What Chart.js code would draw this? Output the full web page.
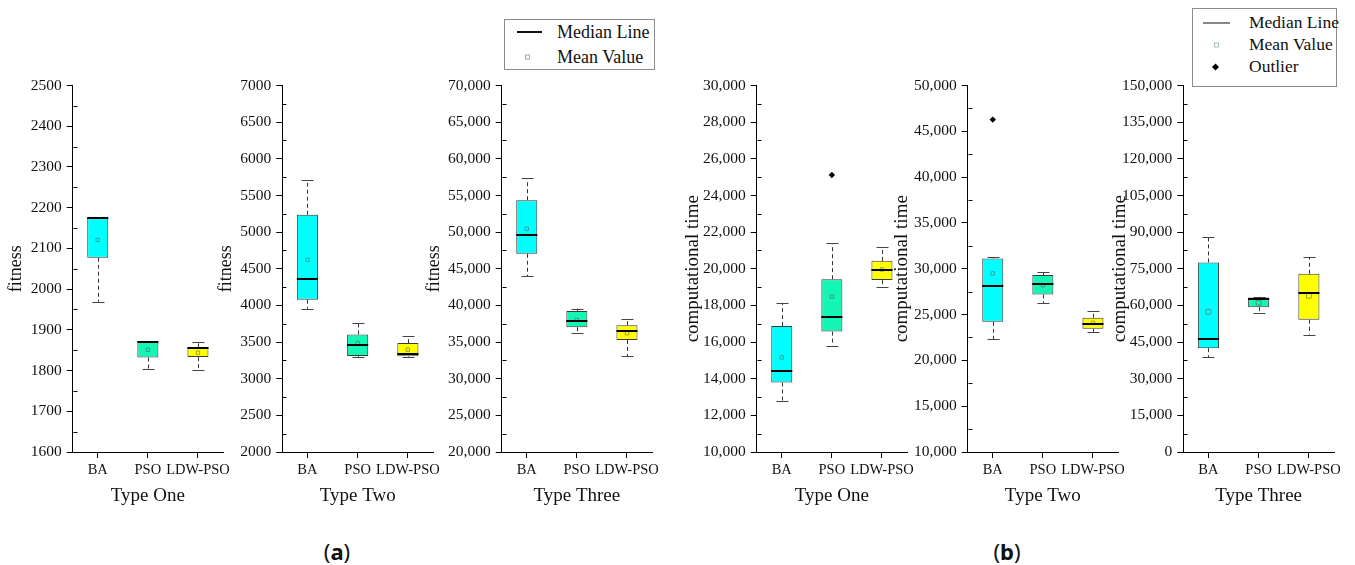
<!DOCTYPE html>
<html>
<head>
<meta charset="utf-8">
<title>BA / PSO / LDW-PSO box plots</title>
<script src="https://cdn.jsdelivr.net/npm/chart.js@4.4.1/dist/chart.umd.min.js"></script>
<style>
  body { margin: 0; background: #fff; }
  #stage { position: relative; width: 1355px; height: 565px; overflow: hidden;
           font-family: "Liberation Serif", "Times New Roman", serif; color: #111; }
  #stage canvas { position: absolute; }
  .legend { position: absolute; border: 1px solid #8c8c8c; background: #fff; box-sizing: border-box; }
  .mark, .txt { position: absolute; transform: translateY(-50%); }
  .txt { white-space: nowrap; line-height: 1; }
  .caption { position: absolute; transform: translate(-50%, -50%); font-family: "Noto Sans", sans-serif;
             font-size: 22px; white-space: nowrap; }
</style>
</head>
<body>
<div id="stage">
  <!-- legend (a) -->
  <div class="legend" style="left:504px; top:19px; width:151px; height:51px;"></div>
  <div class="mark" style="left:517px; top:32px; width:25px; height:2px; background:#111;"></div>
  <div class="txt" style="left:557px; top:32px; font-size:18px;">Median Line</div>
  <div class="mark" style="left:525px; top:57px; width:3px; height:3px; border:1px solid #9ab;"></div>
  <div class="txt" style="left:557px; top:57px; font-size:18px;">Mean Value</div>

  <!-- legend (b) -->
  <div class="legend" style="left:1192px; top:8px; width:145px; height:79px;"></div>
  <div class="mark" style="left:1203px; top:23px; width:27px; height:1px; background:#111;"></div>
  <div class="txt" style="left:1249px; top:23px; font-size:17.5px;">Median Line</div>
  <div class="mark" style="left:1214px; top:45px; width:3px; height:3px; border:1px solid #abb;"></div>
  <div class="txt" style="left:1249px; top:45px; font-size:17.5px;">Mean Value</div>
  <div class="mark" style="left:1213px; top:67px; width:5px; height:5px; background:#000; transform:translateY(-50%) rotate(45deg);"></div>
  <div class="txt" style="left:1249px; top:67px; font-size:17.5px;">Outlier</div>

  <div class="caption" style="left:337px; top:551px;">(<b>a</b>)</div>
  <div class="caption" style="left:1007px; top:551px;">(<b>b</b>)</div>
</div>

<script>
// ---- data ----
const categories = ['BA', 'PSO', 'LDW-PSO'];
const panelTypes = ['Type One', 'Type Two', 'Type Three', 'Type One', 'Type Two', 'Type Three'];
const yTitles = ['fitness', 'fitness', 'fitness', 'computational time', 'computational time', 'computational time'];
const yMin = [1600, 2000, 20000, 10000, 10000, 0];
const yMax = [2500, 7000, 70000, 30000, 50000, 150000];
const yStep = [100, 500, 5000, 2000, 5000, 15000];

// one row per panel, one value per category
const boxMin = [
  [1969, 1803, 1801],
  [3955, 3298, 3298],
  [43950, 36290, 33050],
  [12780, 15800, 18990],
  [22280, 26250, 23120],
  [38800, 56700, 48090]
];
const boxQ1 = [
  [2077, 1832, 1833],
  [4078, 3309, 3305],
  [47050, 37020, 35280],
  [13790, 16570, 19380],
  [24210, 27200, 23440],
  [42490, 59290, 54100]
];
const boxMedian = [
  [2175, 1870, 1855],
  [4364, 3455, 3332],
  [49650, 37880, 36470],
  [14440, 17370, 19950],
  [28070, 28320, 23950],
  [46310, 62700, 64890]
];
const boxQ3 = [
  [2176, 1871, 1857],
  [5237, 3604, 3486],
  [54350, 39250, 37290],
  [16870, 19430, 20430],
  [31130, 29310, 24650],
  [77600, 63250, 72950]
];
const boxMax = [
  [2176, 1871, 1871],
  [5705, 3755, 3582],
  [57360, 39570, 38110],
  [18140, 21380, 21200],
  [31280, 29640, 25370],
  [87840, 63500, 79780]
];
const boxMean = [
  [2121, 1851, 1844],
  [4623, 3486, 3396],
  [50470, 38020, 36200],
  [15160, 18480, 19960],
  [29490, 28200, 24100],
  [57380, 61070, 63930]
];
const outliers = [
  [null, null, null],
  [null, null, null],
  [null, null, null],
  [null, 25120, null],
  [46280, null, null],
  [null, null, null]
];

// ---- layout / style ----
const axisLeft = [72.7, 282.3, 501.7, 756.7, 967.7, 1183.3];
const titleCenter = [16.3, 226, 434, 693, 902, 1120];
const areaWidth = 150, areaTop = 85.5, areaBottom = 452, xAxisHeight = 58;
const boxColors = ['#00FFFF', '#14F5B6', '#FFFF00'];
const meanColors = ['#3f9d9d', '#3f9d86', '#9d9d3f'];
const serif = '"Liberation Serif", "Times New Roman", serif';

Chart.defaults.font.family = serif;
Chart.defaults.color = '#111';

const boxPlotExtras = {
  id: 'boxPlotExtras',
  beforeDatasetsDraw(chart, args, opts) {
    const { ctx, scales: { x, y } } = chart;
    const p = opts.panel;
    ctx.save();
    ctx.strokeStyle = '#333';
    ctx.lineWidth = 1;
    categories.forEach((c, i) => {
      const px = Math.round(x.getPixelForValue(i)) + 0.5;
      const yLo = y.getPixelForValue(boxMin[p][i]);
      const yQ1 = y.getPixelForValue(boxQ1[p][i]);
      const yQ3 = y.getPixelForValue(boxQ3[p][i]);
      const yHi = y.getPixelForValue(boxMax[p][i]);
      ctx.setLineDash([4, 3]);
      ctx.beginPath();
      ctx.moveTo(px, yQ1); ctx.lineTo(px, yLo);
      ctx.moveTo(px, yQ3); ctx.lineTo(px, yHi);
      ctx.stroke();
      ctx.setLineDash([]);
      ctx.strokeStyle = '#444';
      ctx.beginPath();
      [yLo, yHi].forEach(v => {
        const yy = Math.round(v) + 0.5;
        ctx.moveTo(px - 6, yy); ctx.lineTo(px + 6, yy);
      });
      ctx.stroke();
      ctx.strokeStyle = '#333';
    });
    ctx.restore();
  },
  afterDatasetsDraw(chart, args, opts) {
    const { ctx, scales: { x, y } } = chart;
    const p = opts.panel;
    const bars = chart.getDatasetMeta(0).data;
    ctx.save();
    ctx.strokeStyle = '#000';
    ctx.lineWidth = 2;
    categories.forEach((c, i) => {
      const half = bars[i].width / 2;
      const px = x.getPixelForValue(i);
      const py = Math.round(y.getPixelForValue(boxMedian[p][i]));
      ctx.beginPath();
      ctx.moveTo(px - half, py); ctx.lineTo(px + half, py);
      ctx.stroke();
    });
    ctx.restore();
  },
  afterDraw(chart, args, opts) {
    // minor ticks on the inside of the y axis
    const { ctx, scales: { y }, chartArea } = chart;
    const p = opts.panel;
    const minor = yStep[p] / 2;
    const ax = Math.round(chartArea.left) + 0.5;
    ctx.save();
    ctx.strokeStyle = '#000';
    ctx.lineWidth = 1;
    ctx.beginPath();
    for (let v = yMin[p] + minor; v < yMax[p]; v += yStep[p]) {
      const py = Math.round(y.getPixelForValue(v)) + 0.5;
      ctx.moveTo(ax, py); ctx.lineTo(ax + 4, py);
    }
    ctx.stroke();
    ctx.restore();
  }
};

const stage = document.getElementById('stage');

const buildPanel = (p) => {
  const titleSize = p < 3 ? 18 : 19;
  const lineH = titleSize * 1.2;
  const left = Math.floor(titleCenter[p] - lineH / 2 - 2);
  const titlePad = titleCenter[p] - left - lineH / 2;
  const yWidth = axisLeft[p] - left;
  const padTop = 14.5;
  const top = areaTop - padTop;
  const width = Math.ceil(yWidth + areaWidth + 14);
  const height = Math.round(areaBottom + xAxisHeight - top);

  const canvas = document.createElement('canvas');
  canvas.width = width;
  canvas.height = height;
  canvas.style.left = left + 'px';
  canvas.style.top = top + 'px';
  canvas.style.width = width + 'px';
  canvas.style.height = height + 'px';
  stage.appendChild(canvas);

  const plain = p < 2;

  new Chart(canvas, {
    data: {
      labels: categories,
      datasets: [
        {
          type: 'bar',
          data: boxQ1[p].map((q, i) => [q, boxQ3[p][i]]),
          backgroundColor: boxColors,
          borderColor: '#3a3a3a',
          borderWidth: 1,
          borderSkipped: false,
          barPercentage: 0.42,
          categoryPercentage: 1,
          order: 2
        },
        {
          type: 'line',
          data: boxMean[p],
          showLine: false,
          pointStyle: 'rect',
          pointRadius: p === 5 ? 3.4 : 2.4,
          pointBorderWidth: 1,
          pointBorderColor: meanColors,
          pointBackgroundColor: 'rgba(0,0,0,0)',
          order: 0
        },
        {
          type: 'line',
          data: outliers[p],
          showLine: false,
          pointStyle: 'rectRot',
          pointRadius: 3.2,
          pointBorderWidth: 0,
          pointBackgroundColor: '#000',
          pointBorderColor: '#000',
          order: 0
        }
      ]
    },
    options: {
      responsive: false,
      animation: false,
      devicePixelRatio: 1,
      events: [],
      layout: { padding: { top: padTop, right: 14, bottom: 0, left: 0 } },
      plugins: {
        legend: { display: false },
        tooltip: { enabled: false },
        boxPlotExtras: { panel: p }
      },
      scales: {
        x: {
          type: 'category',
          offset: true,
          grid: { offset: false, drawOnChartArea: false, color: '#000', tickLength: 6, lineWidth: 1 },
          border: { color: '#000', width: 1 },
          ticks: { font: { size: 14.5 }, color: '#111', padding: 3, maxRotation: 0, minRotation: 0, autoSkip: false },
          title: { display: true, text: panelTypes[p], font: { size: 19, lineHeight: 1.2 }, color: '#111',
                   padding: { top: 0, bottom: 2.6 } },
          afterFit: (s) => { s.height = xAxisHeight; }
        },
        y: {
          type: 'linear',
          min: yMin[p],
          max: yMax[p],
          grid: { drawOnChartArea: false, color: '#000', tickLength: 6, lineWidth: 1 },
          border: { color: '#000', width: 1 },
          ticks: {
            stepSize: yStep[p],
            font: { size: 15.5 },
            color: '#111',
            padding: 5,
            callback: (v) => plain ? String(v) : Number(v).toLocaleString('en-US')
          },
          title: { display: true, text: yTitles[p], font: { size: titleSize, lineHeight: 1.2 }, color: '#111',
                   padding: { top: titlePad, bottom: 0 } },
          afterFit: (s) => { s.width = yWidth; }
        }
      }
    },
    plugins: [boxPlotExtras]
  });
};

document.addEventListener('DOMContentLoaded', () => {
  for (let p = 0; p < 6; p++) buildPanel(p);
});
</script>
</body>
</html>
